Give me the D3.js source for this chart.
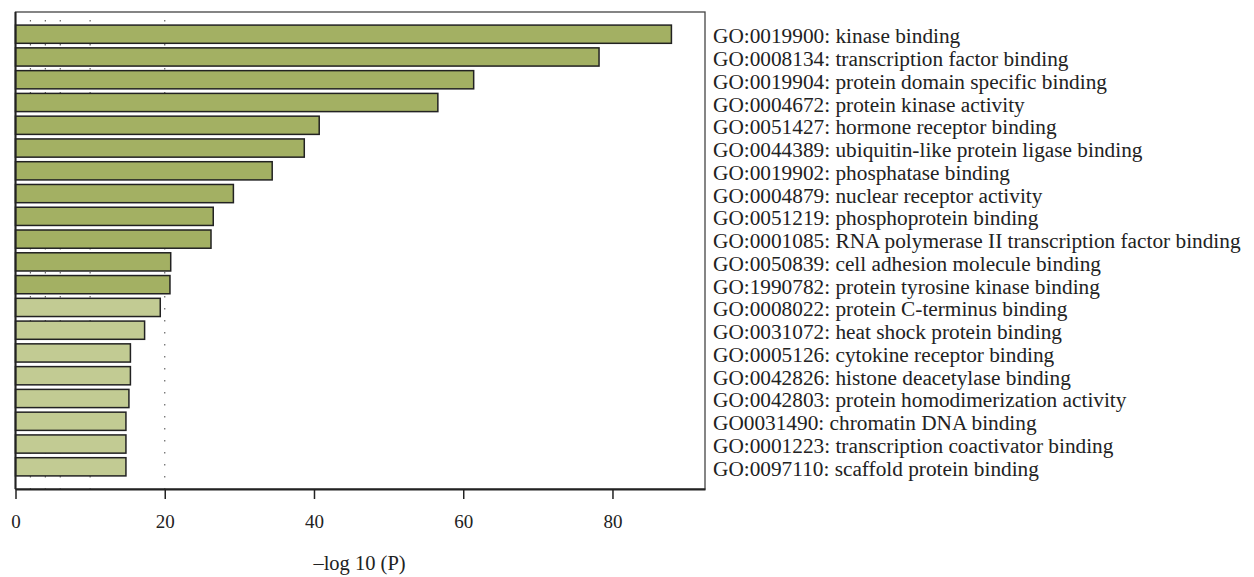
<!DOCTYPE html>
<html>
<head>
<meta charset="utf-8">
<script src="https://cdn.jsdelivr.net/npm/d3@7"></script>
<style>
    body { margin: 0; background: #fff; }
    text { font-family: "Liberation Serif", "DejaVu Serif", serif; fill: #222; }
</style>
</head>
<body>
<div id="chart-area"></div>
<script>
/*
*    GO molecular function enrichment
*/

var terms = [
    "GO:0019900: kinase binding",
    "GO:0008134: transcription factor binding",
    "GO:0019904: protein domain specific binding",
    "GO:0004672: protein kinase activity",
    "GO:0051427: hormone receptor binding",
    "GO:0044389: ubiquitin-like protein ligase binding",
    "GO:0019902: phosphatase binding",
    "GO:0004879: nuclear receptor activity",
    "GO:0051219: phosphoprotein binding",
    "GO:0001085: RNA polymerase II transcription factor binding",
    "GO:0050839: cell adhesion molecule binding",
    "GO:1990782: protein tyrosine kinase binding",
    "GO:0008022: protein C-terminus binding",
    "GO:0031072: heat shock protein binding",
    "GO:0005126: cytokine receptor binding",
    "GO:0042826: histone deacetylase binding",
    "GO:0042803: protein homodimerization activity",
    "GO0031490: chromatin DNA binding",
    "GO:0001223: transcription coactivator binding",
    "GO:0097110: scaffold protein binding"
];

var logP = [87.9, 78.2, 61.4, 56.6, 40.7, 38.7, 34.4, 29.2, 26.5, 26.2,
            20.8, 20.7, 19.4, 17.3, 15.4, 15.4, 15.2, 14.8, 14.8, 14.8];

// first 12 terms are drawn in the darker green
var darkCount = 12;

var xTicks = [0, 20, 40, 60, 80];
var gridValues = [2, 4, 6, 10, 20];

var margin = { left: 15.5, right: 549, top: 12, bottom: 88 };
var width = 1254 - margin.left - margin.right;
var height = 577 - margin.top - margin.bottom;

var svg = d3.select("#chart-area").append("svg")
    .attr("width", 1254)
    .attr("height", 577);

var g = svg.append("g")
    .attr("transform", "translate(" + margin.left + ", " + margin.top + ")");

var x = d3.scaleLinear()
    .domain([0, 92.4])
    .range([0, width]);

var y = d3.scaleBand()
    .domain(terms)
    .range([0, height])
    .paddingInner(0.2)
    .paddingOuter(0.575);

// dotted reference lines
g.selectAll(".grid")
    .data(gridValues)
    .enter()
    .append("line")
        .attr("class", "grid")
        .attr("x1", (d) => x(d))
        .attr("x2", (d) => x(d))
        .attr("y1", 8)
        .attr("y2", height)
        .attr("stroke", "#666")
        .attr("stroke-width", 1.2)
        .attr("stroke-dasharray", "1.5,10.5");

// bars
g.selectAll("rect.bar")
    .data(terms)
    .enter()
    .append("rect")
        .attr("class", "bar")
        .attr("x", x(0))
        .attr("y", (d) => y(d))
        .attr("width", (d, i) => x(logP[i]) - x(0))
        .attr("height", y.bandwidth())
        .attr("fill", (d, i) => i < darkCount ? "#a3b063" : "#c2cb93")
        .attr("stroke", "#222")
        .attr("stroke-width", 1.5);

// frame
g.append("rect")
    .attr("x", 0)
    .attr("y", 0)
    .attr("width", width)
    .attr("height", height)
    .attr("fill", "none")
    .attr("stroke", "#444")
    .attr("stroke-width", 1.3);

g.append("line")
    .attr("x1", 0).attr("x2", 0)
    .attr("y1", 0).attr("y2", height)
    .attr("stroke", "#222")
    .attr("stroke-width", 2);

// x Axis
var xAxisCall = d3.axisBottom(x)
    .tickValues(xTicks)
    .tickSize(10)
    .tickSizeOuter(0);
var xAxis = g.append("g")
    .attr("class", "x axis")
    .attr("transform", "translate(0, " + height + ")")
    .call(xAxisCall);

xAxis.select(".domain")
    .attr("stroke", "#222")
    .attr("stroke-width", 2);

xAxis.selectAll(".tick line")
    .attr("stroke", "#222")
    .attr("stroke-width", 1.5);

xAxis.selectAll(".tick text")
    .attr("y", 39)
    .attr("dy", 0)
    .style("font-family", "Liberation Serif, serif")
    .style("font-size", "19px")
    .style("fill", "#222");

// x Label
g.append("text")
    .attr("x", 344)
    .attr("y", height + 81)
    .attr("text-anchor", "middle")
    .text("\u2013log 10 (P)")
    .style("font-size", "20.5px");

// term labels
g.selectAll("text.term")
    .data(terms)
    .enter()
    .append("text")
        .attr("class", "term")
        .attr("x", width + 8)
        .attr("y", (d) => y(d) + y.bandwidth() / 2 + 9)
        .text((d) => d)
        .style("font-size", "21.3px");
</script>
</body>
</html>
